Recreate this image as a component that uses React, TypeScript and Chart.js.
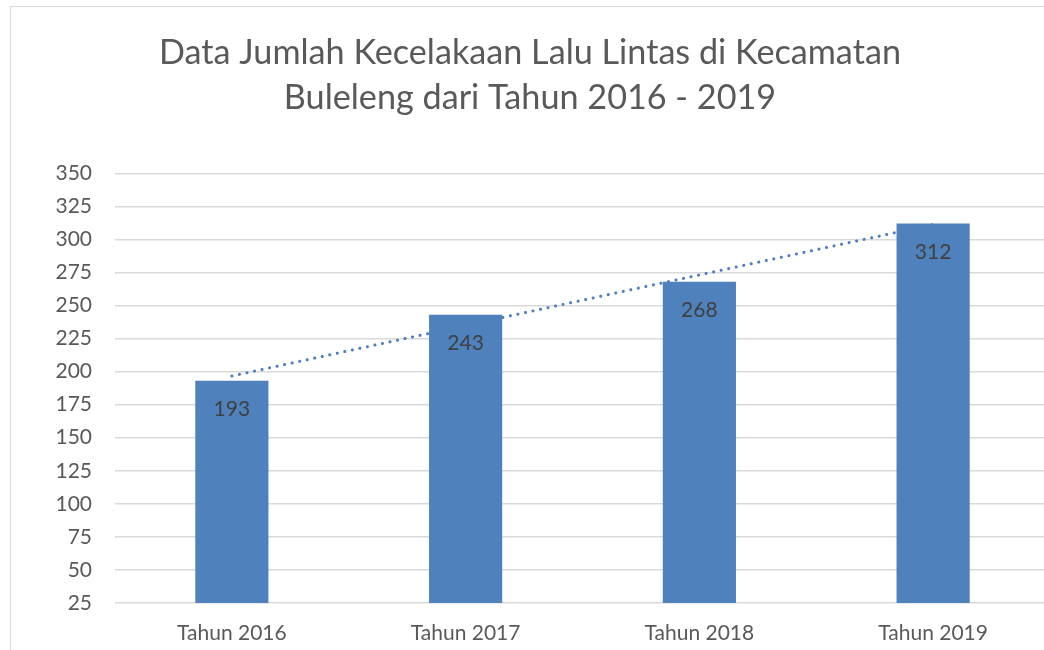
import React, { useEffect, useRef } from "react";
import { Chart, registerables } from "chart.js";

Chart.register(...registerables);

const categories = ["Tahun 2016", "Tahun 2017", "Tahun 2018", "Tahun 2019"];
const accidents = [193, 243, 268, 312];
const trendValues = [196.7, 234.9, 273.1, 311.3];
const titleLines = ["Data Jumlah Kecelakaan Lalu Lintas di Kecamatan", "Buleleng dari Tahun 2016 - 2019"];
const yMin = 25;
const yMax = 350;
const yStep = 25;

const FONT = "Lato, 'Open Sans', sans-serif";
const TEXT = "#595959";

const barLabelPlugin = {
  id: "barLabels",
  afterDatasetsDraw(chart: any) {
    const ctx = chart.ctx;
    chart.data.datasets.forEach((ds: any, i: number) => {
      if (ds.type !== "bar") return;
      const meta = chart.getDatasetMeta(i);
      ctx.save();
      ctx.font = `21px ${FONT}`;
      ctx.fillStyle = "#404040";
      ctx.textAlign = "center";
      ctx.textBaseline = "middle";
      meta.data.forEach((el: any, j: number) => {
        ctx.fillText(String(ds.data[j]), el.x, el.y + 28.5);
      });
      ctx.restore();
    });
  },
};

export default function App() {
  const ref = useRef<HTMLCanvasElement>(null);
  useEffect(() => {
    if (!ref.current) return;
    const chart = new Chart(ref.current, {
      type: "bar",
      data: {
        labels: categories,
        datasets: [
          {
            type: "bar",
            label: "Jumlah",
            data: accidents,
            backgroundColor: "#4f81bd",
            barPercentage: 0.313,
            categoryPercentage: 1,
            order: 1,
          } as any,
          {
            type: "line",
            label: "Trend",
            data: trendValues,
            borderColor: "#4a7ebf",
            borderWidth: 3,
            borderDash: [0.1, 7.6],
            borderCapStyle: "round",
            pointRadius: 0,
            fill: false,
            tension: 0,
            order: 2,
          } as any,
        ],
      },
      options: {
        responsive: false,
        animation: false,
        layout: { padding: { left: 10, right: 0, top: 0, bottom: 0 } },
        plugins: {
          legend: { display: false },
          tooltip: { enabled: false },
          title: {
            display: true,
            text: titleLines,
            color: TEXT,
            font: { family: FONT, size: 34.2, weight: "normal", lineHeight: 1.32 },
            padding: { top: 30, bottom: 53 },
          },
        },
        scales: {
          x: {
            grid: { display: false, drawTicks: false },
            border: { display: false },
            ticks: { color: TEXT, font: { family: FONT, size: 21 }, padding: 18 },
            afterFit: (s: any) => {
              s.height = 47;
            },
          },
          y: {
            min: yMin,
            max: yMax,
            grid: { color: "#d9d9d9", lineWidth: 1.5, drawTicks: false },
            border: { display: false },
            ticks: { stepSize: yStep, color: TEXT, font: { family: FONT, size: 21 }, padding: 23 },
            afterFit: (s: any) => {
              s.width = 105;
            },
          },
        },
      },
      plugins: [barLabelPlugin],
    });
    return () => chart.destroy();
  }, []);

  return (
    <div style={{ position: "fixed", left: 0, top: 0, width: 1044, height: 650, overflow: "hidden", background: "#fff" }}>
      <div
        style={{
          position: "absolute",
          left: 10,
          top: 6,
          width: 1100,
          height: 700,
          border: "1.5px solid #d9d9d9",
        }}
      />
      <canvas ref={ref} width={1050} height={650} style={{ position: "absolute", left: 0, top: 0 }} />
    </div>
  );
}
